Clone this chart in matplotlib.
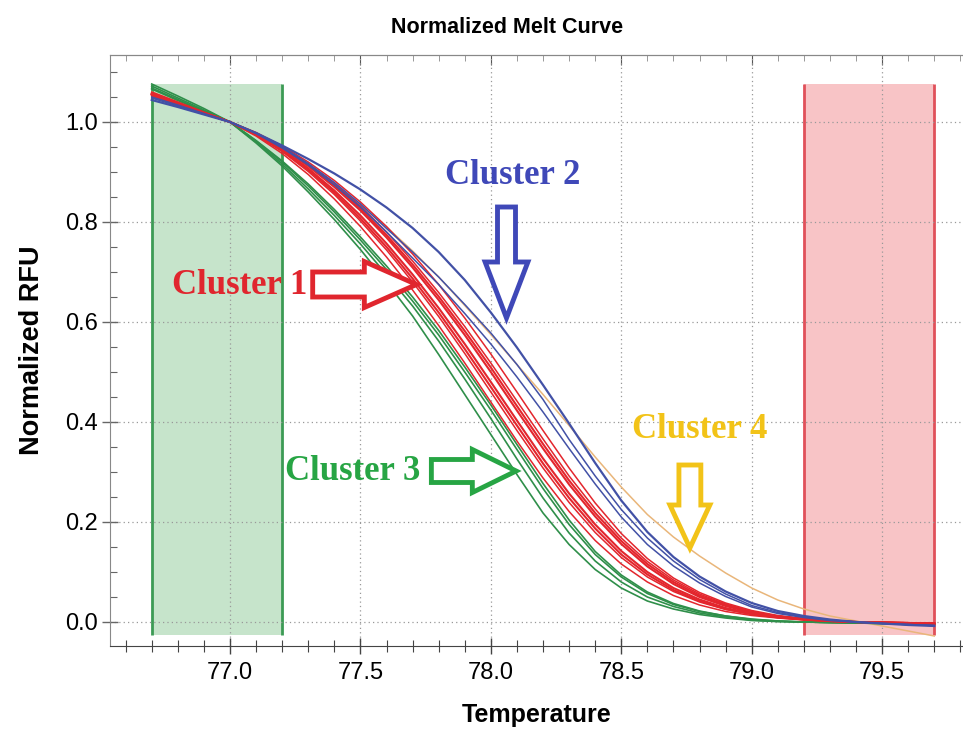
import matplotlib
matplotlib.use("Agg")
import matplotlib.pyplot as plt
from matplotlib.patches import Rectangle, FancyArrow
from matplotlib.ticker import MultipleLocator

temps = [76.7, 76.8, 76.9, 77.0, 77.1, 77.2, 77.3, 77.4, 77.5, 77.6, 77.7,
         77.8, 77.9, 78.0, 78.1, 78.2, 78.3, 78.4, 78.5, 78.6, 78.7, 78.8,
         78.9, 79.0, 79.1, 79.2, 79.3, 79.4, 79.5, 79.6, 79.7]

# cluster 3 (green) - lowest Tm
green_curves = [
    [1.076, 1.052, 1.027, 1.0, 0.958, 0.912, 0.860, 0.805, 0.745, 0.680, 0.612,
     0.535, 0.455, 0.375, 0.295, 0.218, 0.155, 0.105, 0.068, 0.042, 0.026, 0.015,
     0.008, 0.003, 0.001, 0.0, -0.001, -0.001, -0.002, -0.003, -0.004],
    [1.072, 1.048, 1.024, 1.0, 0.960, 0.916, 0.866, 0.813, 0.756, 0.695, 0.632,
     0.562, 0.486, 0.407, 0.326, 0.248, 0.178, 0.122, 0.080, 0.050, 0.031, 0.018,
     0.010, 0.004, 0.001, 0.0, -0.001, -0.002, -0.002, -0.003, -0.004],
    [1.068, 1.045, 1.022, 1.0, 0.962, 0.920, 0.872, 0.820, 0.764, 0.705, 0.642,
     0.574, 0.500, 0.424, 0.345, 0.267, 0.195, 0.135, 0.090, 0.057, 0.035, 0.021,
     0.012, 0.005, 0.002, 0.0, -0.001, -0.002, -0.003, -0.003, -0.004],
    [1.066, 1.043, 1.021, 1.0, 0.963, 0.922, 0.876, 0.825, 0.770, 0.712, 0.650,
     0.583, 0.510, 0.434, 0.355, 0.277, 0.204, 0.141, 0.094, 0.060, 0.037, 0.022,
     0.012, 0.006, 0.002, 0.0, -0.001, -0.002, -0.003, -0.003, -0.004],
]

# cluster 1 (red) - main band
red_curves = [
    [1.060, 1.040, 1.020, 1.0, 0.972, 0.937, 0.895, 0.846, 0.791, 0.730, 0.664,
     0.593, 0.518, 0.440, 0.362, 0.288, 0.221, 0.163, 0.116, 0.080, 0.053, 0.034,
     0.021, 0.013, 0.008, 0.004, 0.002, 0.0, -0.001, -0.002, -0.003],
    [1.058, 1.038, 1.019, 1.0, 0.974, 0.941, 0.901, 0.855, 0.802, 0.744, 0.680,
     0.611, 0.537, 0.460, 0.383, 0.308, 0.239, 0.179, 0.129, 0.090, 0.061, 0.040,
     0.025, 0.015, 0.009, 0.005, 0.002, 0.0, -0.001, -0.002, -0.003],
    [1.057, 1.037, 1.018, 1.0, 0.975, 0.943, 0.904, 0.859, 0.807, 0.750, 0.687,
     0.619, 0.546, 0.470, 0.393, 0.317, 0.248, 0.187, 0.135, 0.095, 0.064, 0.042,
     0.026, 0.016, 0.009, 0.005, 0.002, 0.0, -0.001, -0.002, -0.003],
    [1.056, 1.037, 1.018, 1.0, 0.976, 0.945, 0.907, 0.863, 0.813, 0.757, 0.695,
     0.628, 0.556, 0.480, 0.403, 0.327, 0.257, 0.195, 0.142, 0.100, 0.068, 0.045,
     0.028, 0.017, 0.010, 0.005, 0.002, 0.0, -0.001, -0.002, -0.003],
    [1.055, 1.036, 1.018, 1.0, 0.977, 0.948, 0.912, 0.870, 0.823, 0.769, 0.709,
     0.644, 0.574, 0.500, 0.423, 0.347, 0.275, 0.211, 0.156, 0.111, 0.076, 0.050,
     0.032, 0.019, 0.011, 0.006, 0.002, 0.0, -0.001, -0.002, -0.003],
    [1.055, 1.036, 1.018, 1.0, 0.977, 0.949, 0.914, 0.873, 0.827, 0.774, 0.715,
     0.651, 0.582, 0.509, 0.432, 0.356, 0.283, 0.218, 0.162, 0.116, 0.080, 0.053,
     0.034, 0.020, 0.011, 0.006, 0.002, 0.0, -0.001, -0.002, -0.003],
    [1.054, 1.035, 1.017, 1.0, 0.978, 0.950, 0.916, 0.877, 0.832, 0.780, 0.722,
     0.659, 0.591, 0.518, 0.442, 0.366, 0.292, 0.226, 0.168, 0.121, 0.084, 0.056,
     0.036, 0.021, 0.012, 0.006, 0.003, 0.0, -0.001, -0.002, -0.003],
    [1.052, 1.034, 1.017, 1.0, 0.979, 0.952, 0.920, 0.883, 0.840, 0.791, 0.736,
     0.675, 0.608, 0.536, 0.460, 0.383, 0.308, 0.238, 0.177, 0.127, 0.088, 0.059,
     0.038, 0.023, 0.013, 0.007, 0.003, 0.0, -0.001, -0.002, -0.003],
]

# cluster 2 (blue)
blue_curves = [
    [1.044, 1.030, 1.015, 1.0, 0.978, 0.953, 0.926, 0.897, 0.865, 0.829, 0.788,
     0.740, 0.684, 0.619, 0.549, 0.474, 0.397, 0.318, 0.243, 0.180, 0.130, 0.091,
     0.061, 0.038, 0.022, 0.012, 0.005, 0.0, -0.003, -0.006, -0.008],
    [1.050, 1.034, 1.017, 1.0, 0.978, 0.950, 0.917, 0.879, 0.836, 0.787, 0.740,
     0.690, 0.635, 0.578, 0.515, 0.445, 0.365, 0.292, 0.225, 0.168, 0.122, 0.085,
     0.056, 0.033, 0.019, 0.010, 0.004, 0.0, -0.003, -0.005, -0.007],
    [1.048, 1.032, 1.016, 1.0, 0.977, 0.948, 0.914, 0.874, 0.830, 0.780, 0.728,
     0.675, 0.617, 0.556, 0.490, 0.420, 0.347, 0.276, 0.210, 0.155, 0.112, 0.078,
     0.051, 0.030, 0.017, 0.009, 0.003, 0.0, -0.003, -0.005, -0.007],
]

# cluster 4 (orange) - single broad curve
orange_curve = [1.060, 1.040, 1.020, 1.0, 0.973, 0.943, 0.910, 0.874, 0.834, 0.790,
                0.742, 0.690, 0.633, 0.575, 0.515, 0.455, 0.393, 0.330, 0.270,
                0.215, 0.170, 0.132, 0.098, 0.068, 0.044, 0.026, 0.012, 0.002,
                -0.008, -0.018, -0.028]

green_region = [76.7, 77.2]
red_region = [79.2, 79.7]
region_y = [-0.026, 1.076]

fig = plt.figure(figsize=(9.63, 7.42), dpi=100)
ax = fig.add_axes([110 / 963, 1 - 646 / 742, 853 / 963, (646 - 55) / 742])
ax.set_xlim(76.54, 79.81)
ax.set_ylim(-0.048, 1.134)

# shaded analysis regions
ax.add_patch(Rectangle((green_region[0], region_y[0]), green_region[1] - green_region[0],
                       region_y[1] - region_y[0], facecolor='#c6e4cb', edgecolor='none', zorder=1))
ax.vlines(green_region, region_y[0], region_y[1], color='#3c9b55', lw=2, zorder=1.2)
ax.add_patch(Rectangle((red_region[0], region_y[0]), red_region[1] - red_region[0],
                       region_y[1] - region_y[0], facecolor='#f8c4c6', edgecolor='none', zorder=1))
ax.vlines(red_region, region_y[0], region_y[1], color='#e0505a', lw=2, zorder=1.2)

ax.plot(temps, orange_curve, color='#e9b67a', lw=1.1, zorder=3)
for c in green_curves:
    ax.plot(temps, c, color='#2f8f4a', lw=1.2, zorder=3)
for i, c in enumerate(red_curves):
    ax.plot(temps, c, color='#e3262d', lw=1.5 if 2 <= i <= 5 else 1.1, zorder=3.1)
for i, c in enumerate(blue_curves):
    ax.plot(temps, c, color='#4251a6', lw=1.6 if i == 0 else 1.1, zorder=3.2)

# grid and axes styling
ax.set_axisbelow('line')
ax.grid(True, which='major', ls=(0, (1, 2.5)), color='#999999', lw=0.9)
ax.xaxis.set_major_locator(MultipleLocator(0.5))
ax.xaxis.set_minor_locator(MultipleLocator(0.1))
ax.yaxis.set_major_locator(MultipleLocator(0.2))
ax.yaxis.set_minor_locator(MultipleLocator(0.05))
ax.xaxis.set_major_formatter(lambda v, p: f"{v:.1f}")
ax.yaxis.set_major_formatter(lambda v, p: f"{v:.1f}")
ax.tick_params(axis='x', which='major', direction='inout', length=11, width=1, colors='#444444',
               labelcolor='black', labelsize=17, pad=6)
ax.tick_params(axis='x', which='minor', direction='inout', length=8, width=0.8, colors='#444444')
ax.tick_params(axis='y', which='major', direction='inout', length=12, width=1, colors='#666666',
               labelcolor='black', labelsize=17, pad=3)
ax.tick_params(axis='y', which='minor', direction='in', length=5, width=0.8, colors='#666666')
for lab in ax.get_xticklabels() + ax.get_yticklabels():
    lab.set_family('Liberation Sans')

ax.spines['right'].set_visible(False)
ax.spines['left'].set_color('#888888')
ax.spines['bottom'].set_color('#444444')
ax.spines['top'].set_color('#888888')

top = ax.secondary_xaxis('top')
top.xaxis.set_major_locator(MultipleLocator(0.5))
top.xaxis.set_minor_locator(MultipleLocator(0.1))
top.tick_params(which='major', direction='in', length=7, colors='#555555', labeltop=False)
top.tick_params(which='minor', direction='in', length=4, colors='#888888')
top.spines['top'].set_color('#888888')

ax.set_xlabel('Temperature', family='Liberation Sans', fontsize=18, fontweight='bold', labelpad=14)
ax.set_ylabel('Normalized RFU', family='Liberation Sans', fontsize=19.5, fontweight='bold', labelpad=14)
fig.text(0.527, 0.963, 'Normalized Melt Curve', family='Liberation Sans', fontsize=15.5,
         fontweight='bold', ha='center', va='center')

# cluster annotations
serif = dict(family='Liberation Serif', fontweight='bold', fontsize=25, ha='center', va='center', zorder=6)
ax.text(77.038, 0.674, 'Cluster 1', color='#e0262e', **serif)
ax.text(78.082, 0.892, 'Cluster 2', color='#3f48b8', **serif)
ax.text(77.47, 0.302, 'Cluster 3', color='#27a544', **serif)
ax.text(78.80, 0.384, 'Cluster 4', color='#f2c318', **serif)

arrow_kw = dict(length_includes_head=True, facecolor='white', lw=3.5, joinstyle='miter', zorder=5)
ax.add_patch(FancyArrow(77.317, 0.675, 0.398, 0, width=0.05, head_width=0.092,
                        head_length=0.2, edgecolor='#e0262e', **arrow_kw))
ax.add_patch(FancyArrow(78.06, 0.83, 0, -0.222, width=0.069, head_width=0.164,
                        head_length=0.112, edgecolor='#3f48b8', **arrow_kw))
ax.add_patch(FancyArrow(77.772, 0.302, 0.325, 0, width=0.046, head_width=0.086,
                        head_length=0.168, edgecolor='#27a544', **arrow_kw))
ax.add_patch(FancyArrow(78.763, 0.314, 0, -0.166, width=0.084, head_width=0.153,
                        head_length=0.086, edgecolor='#f2c318', **arrow_kw))

fig.savefig('out.png', dpi=100)
